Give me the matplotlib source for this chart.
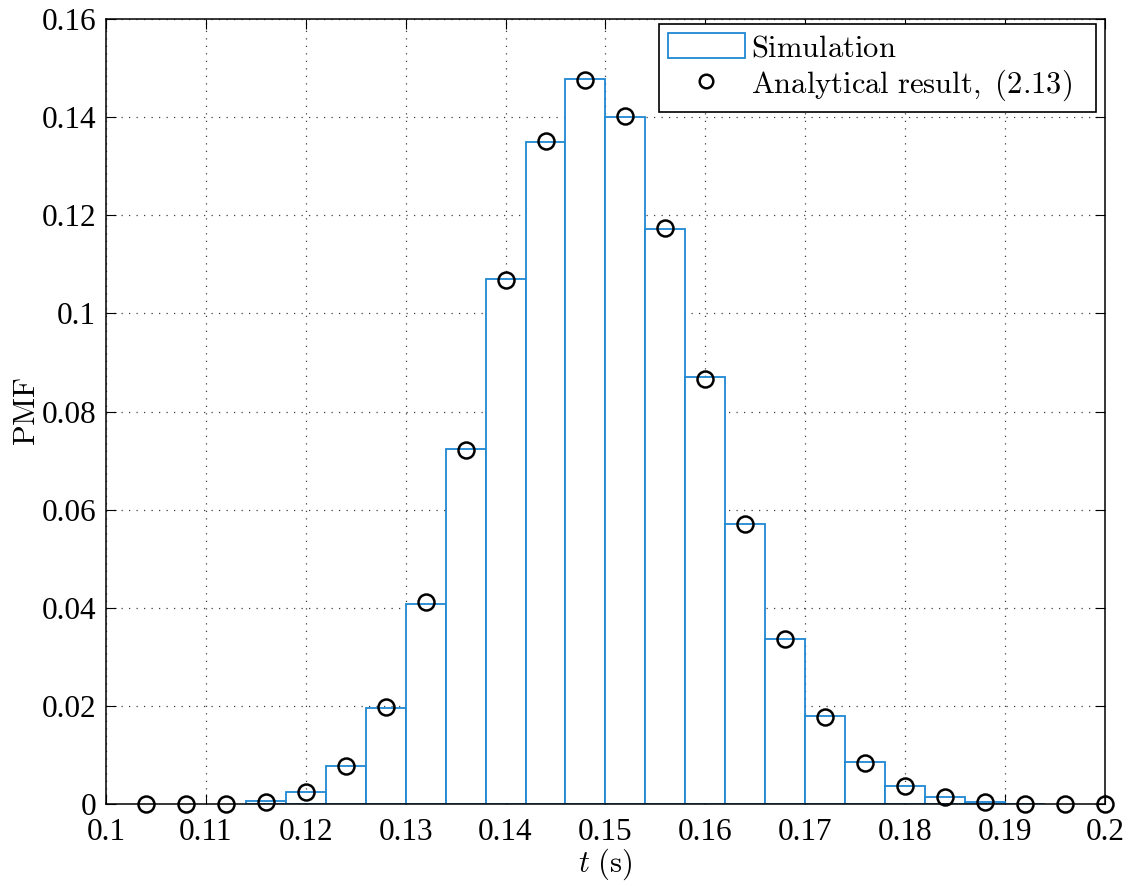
import matplotlib
matplotlib.use("Agg")
import matplotlib.pyplot as plt
from matplotlib.font_manager import FontProperties
import numpy as np

# Simulation histogram (bin centers, bin width 0.004)
sim_t = [0.116, 0.120, 0.124, 0.128, 0.132, 0.136, 0.140, 0.144, 0.148, 0.152,
         0.156, 0.160, 0.164, 0.168, 0.172, 0.176, 0.180, 0.184, 0.188, 0.192]
sim_pmf = [0.0006, 0.0024, 0.0078, 0.0196, 0.0408, 0.0723, 0.1070, 0.1349, 0.1477, 0.1400,
           0.1172, 0.0870, 0.0570, 0.0336, 0.0180, 0.0085, 0.0037, 0.0014, 0.0005, 0.0001]

# Analytical result, (2.13)
ana_t = [0.104, 0.108, 0.112, 0.116, 0.120, 0.124, 0.128, 0.132, 0.136, 0.140, 0.144,
         0.148, 0.152, 0.156, 0.160, 0.164, 0.168, 0.172, 0.176, 0.180, 0.184, 0.188,
         0.192, 0.196, 0.200]
ana_pmf = [0.0, 0.0, 0.0, 0.0005, 0.0025, 0.0077, 0.0198, 0.0412, 0.0721, 0.1069, 0.1351,
           0.1475, 0.1403, 0.1174, 0.0867, 0.0571, 0.0336, 0.0177, 0.0083, 0.0037, 0.0015,
           0.0005, 0.0001, 0.00003, 0.0]

bin_width = 0.004
xticks = [0.1, 0.11, 0.12, 0.13, 0.14, 0.15, 0.16, 0.17, 0.18, 0.19, 0.2]
xticklabels = ["0.1", "0.11", "0.12", "0.13", "0.14", "0.15", "0.16", "0.17", "0.18", "0.19", "0.2"]
yticks = [0, 0.02, 0.04, 0.06, 0.08, 0.1, 0.12, 0.14, 0.16]
yticklabels = ["0", "0.02", "0.04", "0.06", "0.08", "0.1", "0.12", "0.14", "0.16"]

plt.rcParams['font.family'] = ['Liberation Serif', 'DejaVu Serif']
plt.rcParams['mathtext.fontset'] = 'cm'

fig = plt.figure(figsize=(11.32, 8.86), dpi=100)
ax = fig.add_axes([0.0936, 0.0925, 0.8825, 0.8861])

blue = '#1f88d2'
bars = ax.bar(sim_t, sim_pmf, width=bin_width, facecolor='white', edgecolor=blue,
              linewidth=1.3, zorder=2)
line, = ax.plot(ana_t, ana_pmf, linestyle='none', marker='o', markersize=11.5,
                markerfacecolor='none', markeredgecolor='black', markeredgewidth=1.8,
                zorder=3, clip_on=False)

ax.set_xlim(0.1, 0.2)
ax.set_ylim(0, 0.16)
tick_font = dict(family='Liberation Serif', size=22.5)
ax.set_xticks(xticks)
ax.set_xticklabels(xticklabels, fontdict=tick_font)
ax.set_yticks(yticks)
ax.set_yticklabels(yticklabels, fontdict=tick_font)
ax.tick_params(direction='in', top=True, right=True, length=7, width=0.8)
ax.tick_params(axis='x', pad=10)
ax.tick_params(axis='y', pad=7)
for s in ax.spines.values():
    s.set_linewidth(1.1)

ax.grid(True, linestyle=(0, (1, 5)), color='0.25', linewidth=0.9)
ax.set_axisbelow(True)

ax.set_xlabel(r'$t\ \mathrm{(s)}$', fontsize=22, labelpad=0)
ax.set_ylabel(r'$\mathrm{PMF}$', fontsize=22, labelpad=0)

leg = ax.legend([bars, line],
                [r'$\mathrm{Simulation}$', r'$\mathrm{Analytical\ result,\ (2.13)}$'],
                loc='upper left', mode='expand',
                bbox_to_anchor=(0.5536, 0.5, 0.4374, 0.494),
                prop=FontProperties(size=22),
                frameon=True, fancybox=False, edgecolor='black', framealpha=1,
                handlelength=2.5, handleheight=0.9, markerscale=0.85,
                borderaxespad=0, borderpad=0.3, labelspacing=0.15,
                handletextpad=0.2)
leg.get_frame().set_linewidth(1.2)

fig.savefig('out.png', dpi=100)
